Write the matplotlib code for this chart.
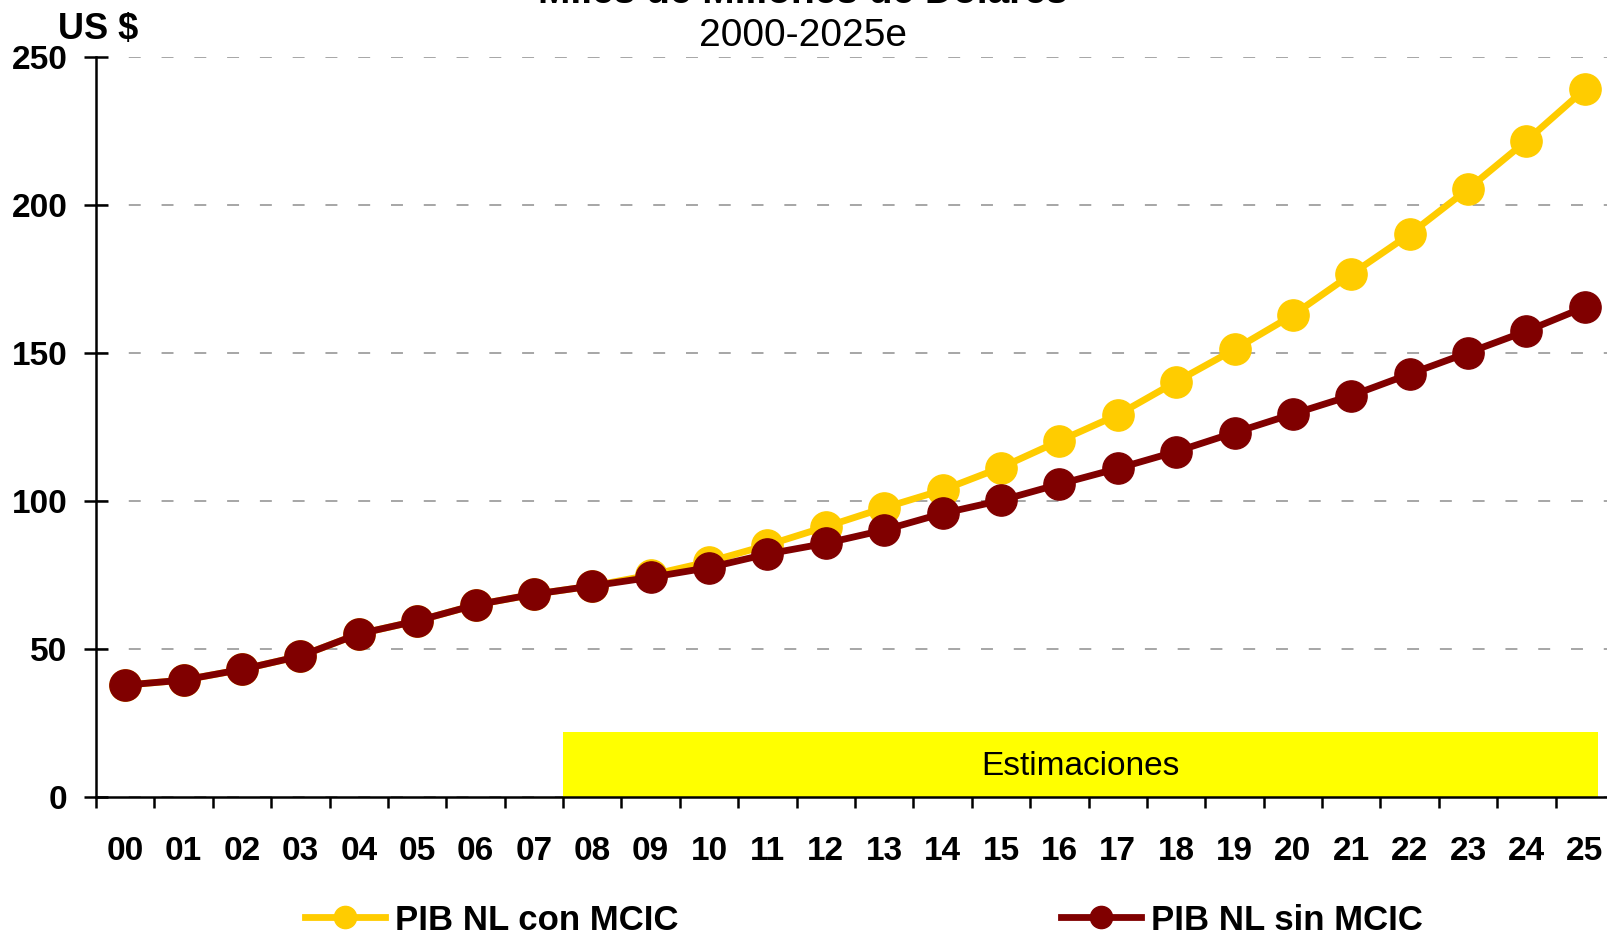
import matplotlib
matplotlib.use("Agg")
import matplotlib.pyplot as plt
from matplotlib.lines import Line2D
from matplotlib.patches import Rectangle

plt.rcParams['font.family'] = ['Liberation Sans', 'DejaVu Sans']
plt.rcParams['lines.scale_dashes'] = False

years = ["00", "01", "02", "03", "04", "05", "06", "07", "08", "09", "10", "11", "12",
         "13", "14", "15", "16", "17", "18", "19", "20", "21", "22", "23", "24", "25"]
con_mcic = [37.8, 39.5, 43.1, 47.6, 55.1, 59.5, 64.9, 68.5, 71.3, 75.0, 79.5, 85.1, 91.3,
            97.7, 103.7, 111.3, 120.3, 129.1, 140.3, 151.2, 162.8, 176.6, 190.1, 205.4, 221.7, 239.1]
sin_mcic = [37.8, 39.5, 43.1, 47.6, 55.1, 59.5, 64.9, 68.5, 71.3, 74.2, 77.5, 82.1, 85.7,
            90.2, 95.8, 100.2, 105.7, 111.0, 116.7, 123.1, 129.4, 135.6, 142.9, 150.1, 157.4, 165.5]
yticks = [0, 50, 100, 150, 200, 250]
est_start, est_end, est_height = 7.5, 25.22, 22

W, H = 1607, 936
fig = plt.figure(figsize=(W / 100, H / 100), dpi=100)
left, right_px, top_px, bot_px = 96, 1614, 57, 797
ax = fig.add_axes([left / W, (H - bot_px) / H, (right_px - left) / W, (bot_px - top_px) / H])

x = list(range(len(years)))
yel, mar = '#FFCC00', '#800000'
ax.plot(x, con_mcic, color=yel, lw=4.9, marker='o', ms=22.5, mec=yel, mfc=yel, zorder=3, clip_on=False)
ax.plot(x, sin_mcic, color=mar, lw=4.9, marker='o', ms=22.5, mec=mar, mfc=mar, zorder=4, clip_on=False)

ax.add_patch(Rectangle((est_start, 0), est_end - est_start, est_height, facecolor='#FFFF00',
                       edgecolor='none', zorder=2, clip_on=False))
ax.text((est_start + est_end) / 2, est_height / 2 - 0.8, "Estimaciones", ha='center', va='center',
        fontsize=24, zorder=5)

ax.set_xlim(-0.5, len(years) - 0.5)
ax.set_ylim(0, 250)
ax.set_yticks(yticks)
ax.set_yticklabels([str(v) for v in yticks], fontsize=24, fontweight='bold')
ax.set_xticks(x)
ax.set_xticklabels(years, fontsize=24, fontweight='bold')
ax.set_xticks([i - 0.5 for i in range(len(years) + 1)], minor=True)
ax.tick_params(axis='x', which='major', length=0, pad=28)
ax.tick_params(axis='x', which='minor', length=8, width=1.8, direction='out')
ax.tick_params(axis='y', which='major', length=17, width=1.8, direction='inout', pad=12)

for s in ['top', 'right']:
    ax.spines[s].set_visible(False)
for s in ['left', 'bottom']:
    ax.spines[s].set_linewidth(1.8)

ax.grid(axis='y', color='#A6A6A6', lw=1.4, linestyle=(0, (8.6, 15)), zorder=1)
ax.set_axisbelow(True)

fig.text(803 / W, (H - 3) / H, "Miles de Millones de Dólares", ha='center', va='baseline',
         fontsize=28, fontweight='bold')
fig.text(803 / W, (H - 46) / H, "2000-2025e", ha='center', va='baseline', fontsize=28)
fig.text(58 / W, (H - 29) / H, "US $", ha='left', va='center', fontsize=26, fontweight='bold')

handles = [Line2D([], [], color=yel, lw=4.9, marker='o', ms=16, mfc=yel, mec=yel),
           Line2D([], [], color=mar, lw=4.9, marker='o', ms=16, mfc=mar, mec=mar)]
leg = fig.legend(handles, ["PIB NL con MCIC", "PIB NL sin MCIC"], ncol=2, loc='center',
                 bbox_to_anchor=(864 / W, (H - 920) / H), frameon=False,
                 prop={'size': 25, 'weight': 'bold'}, handlelength=2.3, handletextpad=0.3,
                 columnspacing=11.0, borderaxespad=0, borderpad=0)

fig.savefig("out.png", dpi=100)
